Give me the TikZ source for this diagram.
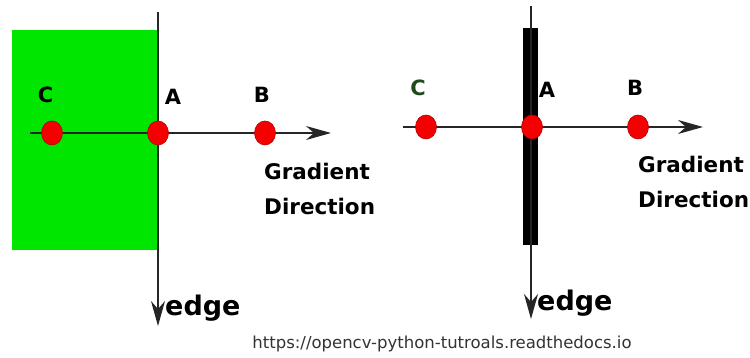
\documentclass[tikz,border=0pt]{standalone}
\usepackage{fontspec}
\setmainfont{DejaVu Sans}
\usetikzlibrary{arrows.meta,shapes.geometric}
\definecolor{edgegreen}{HTML}{00E600}
\definecolor{dotred}{HTML}{F50000}
\definecolor{labgreen}{HTML}{1E4A1E}
\definecolor{urlgray}{HTML}{333333}
\tikzset{
  axis/.style={draw=black!85, line width=1.3pt},
  tipped/.style={axis, -{Stealth[length=25pt, width=14pt, inset=8pt]}},
  dot/.style={ellipse, fill=dotred, draw=red!70!black, line width=0.6pt,
              minimum width=21pt, minimum height=24pt, inner sep=0pt},
  ptlabel/.style={font=\fontsize{21}{21}\selectfont\bfseries, inner sep=0pt},
  gradlabel/.style={font=\fontsize{21.5}{35}\selectfont\bfseries, align=left,
                    inner sep=0pt, anchor=north west},
  edgelabel/.style={font=\fontsize{27}{27}\selectfont\bfseries, inner sep=0pt,
                    anchor=base west},
}
\begin{document}
\begin{tikzpicture}[x=1pt, y=-1pt]
\useasboundingbox[fill=white] (0,0) rectangle (750,358);

% ---- step edge: green region ----
\fill[edgegreen] (12,30) rectangle (158,250);
\coordinate (Ltop) at (158,12);
\coordinate (Lbot) at (158,326);
\draw[tipped] (Ltop) -- (Lbot);
\coordinate (Lstart) at (30,133);
\coordinate (Lend) at (331,133);
\draw[tipped] (Lstart) -- (Lend);
\node[dot] (LC) at (52,133) {};
\node[dot] (LA) at (158,133) {};
\node[dot] (LB) at (265,133) {};
\node[ptlabel] (LCt) at (45.5,95) {C};
\node[ptlabel] (LAt) at (173,97) {A};
\node[ptlabel] (LBt) at (262,95) {B};
\node[gradlabel] (Lgrad) at (264,163) {Gradient\\Direction};
\node[edgelabel] (Ledge) at (165,316) {edge};

% ---- line edge: black bar ----
\fill[black] (523,28) rectangle (538,245);
\coordinate (Rtop) at (531,6);
\coordinate (Rbot) at (531,319);
\draw[tipped] (Rtop) -- (Rbot);
\coordinate (Rstart) at (403,127);
\coordinate (Rend) at (703,127);
\draw[tipped] (Rstart) -- (Rend);
\node[dot] (RC) at (426,127) {};
\node[dot] (RA) at (532,127) {};
\node[dot] (RB) at (638,127) {};
\node[ptlabel, text=labgreen] (RCt) at (418,88) {C};
\node[ptlabel] (RAt) at (547,90) {A};
\node[ptlabel] (RBt) at (635,88) {B};
\node[gradlabel] (Rgrad) at (638,156) {Gradient\\Direction};
\node[edgelabel] (Redge) at (537,310) {edge};

% ---- source ----
\node[font=\fontsize{16.5}{16.5}\selectfont, text=urlgray, inner sep=0pt] (url)
  at (442,344) {https://opencv-python-tutroals.readthedocs.io};
\end{tikzpicture}
\end{document}
